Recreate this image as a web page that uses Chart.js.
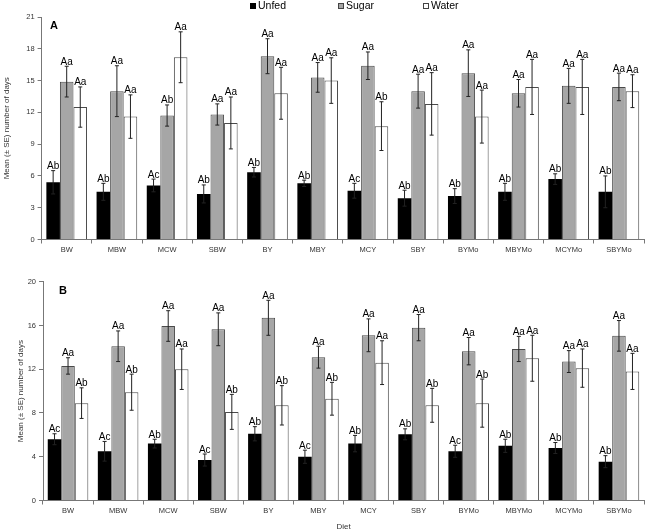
<!DOCTYPE html>
<html>
<head>
<meta charset="utf-8">
<script src="https://cdn.jsdelivr.net/npm/chart.js@4.4.0/dist/chart.umd.min.js"></script>
<style>
  body { margin: 0; background: #fff; font-family: "Liberation Sans", Arial, sans-serif; }
  #wrap { position: relative; width: 647px; height: 532px; }
  canvas { position: absolute; left: 0; }
  .lg { position: absolute; top: 0px; font-size: 10.5px; color: #000; line-height: 11px; }
  .sq { display: inline-block; width: 6px; height: 6px; margin-right: 2px; vertical-align: 0px; box-sizing: border-box; }
  .panel { position: absolute; font-weight: bold; font-size: 11px; }
</style>
</head>
<body>
<div id="wrap">
  <canvas id="chartA" width="647" height="260" style="top:0"></canvas>
  <canvas id="chartB" width="647" height="272" style="top:260px"></canvas>
  <div class="lg" style="left:250px"><span class="sq" style="background:#000"></span>Unfed</div>
  <div class="lg" style="left:338px"><span class="sq" style="background:#a6a6a6;border:1px solid #444"></span>Sugar</div>
  <div class="lg" style="left:423px"><span class="sq" style="background:#fff;border:1px solid #444"></span>Water</div>
  <div class="panel" style="left:50px;top:19px">A</div>
  <div class="panel" style="left:59px;top:284px">B</div>
</div>
<script>
const diets = ["BW", "MBW", "MCW", "SBW", "BY", "MBY", "MCY", "SBY", "BYMo", "MBYMo", "MCYMo", "SBYMo"];

// panel A
const unfedA    = [5.4, 4.5, 5.1, 4.3, 6.35, 5.3, 4.6, 3.9, 4.1, 4.5, 5.7, 4.5];
const unfedAErr = [1.1, 0.8, 0.6, 0.85, 0.45, 0.3, 0.7, 0.75, 0.7, 0.8, 0.5, 1.5];
const sugarA    = [14.9, 14.0, 11.7, 11.8, 17.3, 15.3, 16.4, 14.0, 15.7, 13.8, 14.5, 14.4];
const sugarAErr = [1.45, 2.4, 1.0, 1.0, 1.65, 1.4, 1.3, 1.6, 2.2, 1.3, 1.65, 1.3];
const waterA    = [12.5, 11.6, 17.2, 11.0, 13.8, 15.0, 10.7, 12.8, 11.6, 14.4, 14.4, 14.0];
const waterAErr = [1.9, 2.05, 2.4, 2.45, 2.45, 2.15, 2.3, 2.95, 2.5, 2.6, 2.6, 1.55];
const unfedALet = ["Ab", "Ab", "Ac", "Ab", "Ab", "Ab", "Ac", "Ab", "Ab", "Ab", "Ab", "Ab"];
const sugarALet = ["Aa", "Aa", "Ab", "Aa", "Aa", "Aa", "Aa", "Aa", "Aa", "Aa", "Aa", "Aa"];
const waterALet = ["Aa", "Aa", "Aa", "Aa", "Aa", "Aa", "Ab", "Aa", "Aa", "Aa", "Aa", "Aa"];

// panel B
const unfedB    = [5.6, 4.5, 5.2, 3.7, 6.1, 4.0, 5.2, 6.05, 4.5, 5.0, 4.8, 3.55];
const unfedBErr = [0.5, 0.9, 0.4, 0.55, 0.65, 0.6, 0.75, 0.5, 0.55, 0.6, 0.5, 0.55];
const sugarB    = [12.3, 14.1, 15.95, 15.65, 16.7, 13.1, 15.1, 15.8, 13.65, 13.85, 12.7, 15.05];
const sugarBErr = [0.75, 1.4, 1.4, 1.5, 1.6, 1.0, 1.5, 1.2, 1.25, 1.15, 1.0, 1.4];
const waterB    = [8.9, 9.9, 12.0, 8.1, 8.7, 9.3, 12.6, 8.7, 8.9, 13.0, 12.1, 11.8];
const waterBErr = [1.4, 1.65, 1.85, 1.6, 1.8, 1.5, 2.0, 1.55, 2.2, 2.1, 1.75, 1.65];
const unfedBLet = ["Ac", "Ac", "Ab", "Ac", "Ab", "Ac", "Ab", "Ab", "Ac", "Ab", "Ab", "Ab"];
const sugarBLet = ["Aa", "Aa", "Aa", "Aa", "Aa", "Aa", "Aa", "Aa", "Aa", "Aa", "Aa", "Aa"];
const waterBLet = ["Ab", "Ab", "Aa", "Ab", "Ab", "Ab", "Aa", "Ab", "Ab", "Aa", "Aa", "Aa"];

const FONT = "'Liberation Sans', Arial, sans-serif";

// draws the SE whiskers and the letters above them
const errorBarPlugin = {
    id: "errorBars",
    afterDatasetsDraw(chart) {
        const ctx = chart.ctx;
        const y = chart.scales.y;
        ctx.save();
        chart.data.datasets.forEach((ds, i) => {
            const meta = chart.getDatasetMeta(i);
            meta.data.forEach((bar, j) => {
                const v = ds.data[j];
                const e = ds.err[j];
                const top = y.getPixelForValue(v + e);
                const bot = y.getPixelForValue(v - e);
                ctx.strokeStyle = "#222";
                ctx.lineWidth = 1;
                ctx.beginPath();
                ctx.moveTo(bar.x, top);
                ctx.lineTo(bar.x, bot);
                ctx.moveTo(bar.x - 2, top);
                ctx.lineTo(bar.x + 2, top);
                ctx.moveTo(bar.x - 2, bot);
                ctx.lineTo(bar.x + 2, bot);
                ctx.stroke();

                ctx.fillStyle = "#000";
                ctx.font = "10px " + FONT;
                ctx.textAlign = "center";
                ctx.textBaseline = "alphabetic";
                ctx.fillText(ds.letters[j], bar.x, top - 1.5);
            });
        });
        ctx.restore();
    }
};

function createPanel(id, unfed, unfedErr, unfedLet, sugar, sugarErr, sugarLet, water, waterErr, waterLet, yMax, yStep, pad, yWidth, xHeight, titlePad, showDiet) {
    const data = {
        labels: diets,
        datasets: [
            { label: "Unfed", data: unfed, err: unfedErr, letters: unfedLet, backgroundColor: "#000", borderColor: "#000", borderWidth: 0 },
            { label: "Sugar", data: sugar, err: sugarErr, letters: sugarLet, backgroundColor: "#a6a6a6", borderColor: "#4a4a4a", borderWidth: 1 },
            { label: "Water", data: water, err: waterErr, letters: waterLet, backgroundColor: "#fff", borderColor: "#4a4a4a", borderWidth: 1 }
        ]
    };

    return new Chart(document.getElementById(id), {
        type: "bar",
        data: data,
        plugins: [errorBarPlugin],
        options: {
            responsive: false,
            animation: false,
            categoryPercentage: 0.81,
            barPercentage: 1.0,
            layout: { padding: pad },
            plugins: { legend: { display: false }, tooltip: { enabled: false } },
            scales: {
                x: {
                    grid: { display: true, drawOnChartArea: false, offset: true, tickLength: 4, color: "#777" },
                    border: { color: "#777" },
                    ticks: { color: "#333", font: { size: 7.5, family: FONT }, padding: 2, maxRotation: 0, autoSkip: false },
                    title: { display: showDiet, text: "Diet", color: "#333", font: { size: 8, family: FONT }, padding: { top: 0, bottom: 0 } },
                    afterFit: (scale) => { scale.height = xHeight; }
                },
                y: {
                    min: 0,
                    max: yMax,
                    grid: { display: true, drawOnChartArea: false, tickLength: 4, color: "#777" },
                    border: { color: "#777" },
                    ticks: { stepSize: yStep, color: "#333", font: { size: 7.5, family: FONT }, padding: 3 },
                    title: { display: true, text: "Mean (± SE) number of days", color: "#333", font: { size: 8, family: FONT }, padding: { top: titlePad, bottom: 0 } },
                    afterFit: (scale) => { scale.width = yWidth; }
                }
            }
        }
    });
}

createPanel("chartA", unfedA, unfedAErr, unfedALet, sugarA, sugarAErr, sugarALet, waterA, waterAErr, waterALet,
    21, 3, { top: 17, right: 3, left: 0, bottom: 0 }, 41.6, 20.5, 2, false);
createPanel("chartB", unfedB, unfedBErr, unfedBLet, sugarB, sugarBErr, sugarBLet, waterB, waterBErr, waterBLet,
    20, 4, { top: 21.7, right: 3, left: 0, bottom: 0 }, 43, 31.5, 16, true);
</script>
</body>
</html>
